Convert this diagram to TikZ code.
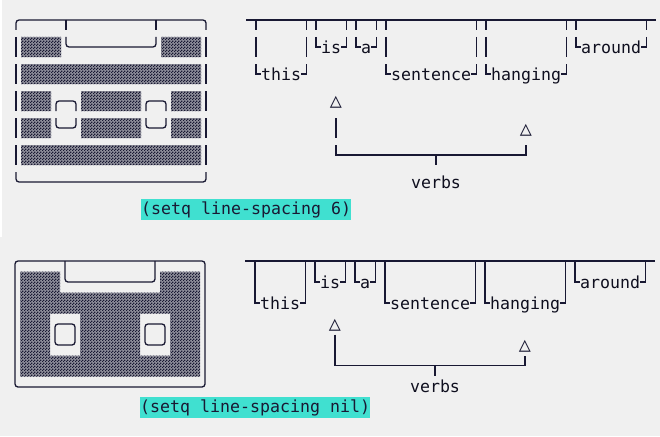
\documentclass[tikz,border=0pt]{standalone}
\usepackage{fontspec}
\setmonofont{DejaVu Sans Mono}
\usetikzlibrary{patterns}

\definecolor{paper}{HTML}{F0F0F0}
\definecolor{ink}{rgb}{0.1,0.1,0.2}
\definecolor{turq}{HTML}{40E0D0}

% fine checker, as the shade blocks in the screenshot
\pgfdeclarepatternformonly{fine checker}{\pgfpointorigin}{\pgfqpoint{3pt}{3pt}}{\pgfqpoint{3pt}{3pt}}{
  \pgfpathrectangle{\pgfpointorigin}{\pgfqpoint{1.5pt}{1.5pt}}
  \pgfpathrectangle{\pgfqpoint{1.5pt}{1.5pt}}{\pgfqpoint{1.5pt}{1.5pt}}
  \pgfusepath{fill}}

\begin{document}
\begin{tikzpicture}[x=1pt,y=-1pt,
  boxline/.style={draw=ink,line width=1.3pt},
  gapped/.style={boxline,dash pattern=on 20pt off 7pt,dash phase=10pt},
  patch/.style={fill=ink!45!paper,postaction={pattern=fine checker,pattern color=ink}},
  word/.style={anchor=west,inner sep=0pt,text height=12pt,text depth=0pt,
    font=\ttfamily\fontsize{16.6}{20}\selectfont,text=ink!60!black},
  pointer/.style={inner sep=0pt,font=\ttfamily\fontsize{20}{22}\selectfont,text=ink},
  caption/.style={anchor=west,fill=turq,inner sep=0pt,minimum height=21.5pt,
    text height=13pt,text depth=3.5pt,font=\ttfamily\fontsize{16.6}{20}\selectfont,text=ink}]

  \useasboundingbox (0,0) rectangle (660,436);
  \fill[paper] (0,0) rectangle (660,436);
  \fill[white] (0,0) rectangle (2,237);

  % line-spacing 6
  \begin{scope}[name prefix=six-]
    % the little radio
    \draw[boxline,rounded corners=3pt] (16,30) -- (16,20) -- (206,20) -- (206,30);
    \draw[boxline] (66,20) -- (66,30) (156,20) -- (156,30);
    \draw[boxline,rounded corners=3pt] (66,37) -- (66,47) -- (156,47) -- (156,37);
    \draw[boxline,dash pattern=on 20pt off 7pt] (16,37) -- (16,165) (206,37) -- (206,165);
    \draw[boxline,rounded corners=3pt] (16,172) -- (16,182) -- (206,182) -- (206,172);
    \fill[patch] (21,37) rectangle (61,57) (161,37) rectangle (201,57)
      (21,64) rectangle (201,84) (21,145) rectangle (201,165);
    \foreach \y in {91,118}
      \fill[patch] (21,\y) rectangle (51,\y+20) (81,\y) rectangle (141,\y+20)
        (171,\y) rectangle (201,\y+20);
    \foreach \x in {56,146}{
      \draw[boxline,rounded corners=3pt] (\x,111) -- (\x,101) -- ++(20,0) -- ++(0,10);
      \draw[boxline,rounded corners=3pt] (\x,118) -- (\x,128) -- ++(20,0) -- ++(0,-10);
    }

    % the sentence
    \coordinate (rule) at (246,20);
    \coordinate (rule end) at (656,20);
    \draw[ink,line width=2.8pt] (rule) -- (rule end);
    \node[word] (this) at (261,74) {this};
    \node[word] (is) at (321,47) {is};
    \node[word] (a) at (361,47) {a};
    \node[word] (sentence) at (391,74) {sentence};
    \node[word] (hanging) at (491,74) {hanging};
    \node[word] (around) at (581,47) {around};
    \foreach \w in {this,is,a,sentence,hanging,around}
      \draw[gapped] ([xshift=-5pt]\w.west |- rule) -- ([xshift=-5pt]\w.west) -- (\w.west)
        ([xshift=5pt]\w.east |- rule) -- ([xshift=5pt]\w.east) -- (\w.east);

    \node[pointer] (tri1) at (336,102.5) {△};
    \node[pointer] (tri2) at (526,130) {△};
    \node[word,anchor=center] (verbs) at (436,182) {verbs};
    \draw[boxline] (tri1 |- 0,118) -- (tri1 |- 0,138);
    \draw[boxline] (tri1 |- 0,145) |- (tri2 |- 0,155) -- (tri2 |- 0,145);
    \draw[boxline] (verbs |- 0,155) -- (verbs |- 0,165);

    \node[caption] (cap) at (141,209.5) {(setq line-spacing 6)};
  \end{scope}

  % line-spacing nil
  \begin{scope}[name prefix=nil-,xshift=-1pt]
    \draw[boxline,rounded corners=3pt] (16,261) rectangle (206,387);
    \draw[boxline,rounded corners=3pt] (66,261) -- (66,282) -- (156,282) -- (156,261);
    \fill[patch] (21,271.5) rectangle (61,292.5) (161,271.5) rectangle (201,292.5)
      (21,292.5) rectangle (201,313.5)
      (21,313.5) rectangle (51,355.5) (81,313.5) rectangle (141,355.5)
      (171,313.5) rectangle (201,355.5)
      (21,355.5) rectangle (201,376.5);
    \foreach \x in {56,146}
      \draw[boxline,rounded corners=3pt] (\x,324) rectangle ++(20,21);

    \coordinate (rule) at (246,261);
    \coordinate (rule end) at (656,261);
    \draw[ink,line width=2.8pt] (rule) -- (rule end);
    \node[word] (this) at (261,303) {this};
    \node[word] (is) at (321,282) {is};
    \node[word] (a) at (361,282) {a};
    \node[word] (sentence) at (391,303) {sentence};
    \node[word] (hanging) at (491,303) {hanging};
    \node[word] (around) at (581,282) {around};
    \foreach \w in {this,is,a,sentence,hanging,around}
      \draw[boxline] ([xshift=-5pt]\w.west |- rule) -- ([xshift=-5pt]\w.west) -- (\w.west)
        ([xshift=5pt]\w.east |- rule) -- ([xshift=5pt]\w.east) -- (\w.east);

    \node[pointer] (tri1) at (336,325) {△};
    \node[pointer] (tri2) at (526,346) {△};
    \node[word,anchor=center] (verbs) at (436,386) {verbs};
    \draw[boxline] (tri1 |- 0,334.5) |- (tri2 |- 0,365.5) -- (tri2 |- 0,355.5);
    \draw[boxline] (verbs |- 0,365.5) -- (verbs |- 0,376);

    \node[caption] (cap) at (141,407.5) {(setq line-spacing nil)};
  \end{scope}
\end{tikzpicture}
\end{document}
